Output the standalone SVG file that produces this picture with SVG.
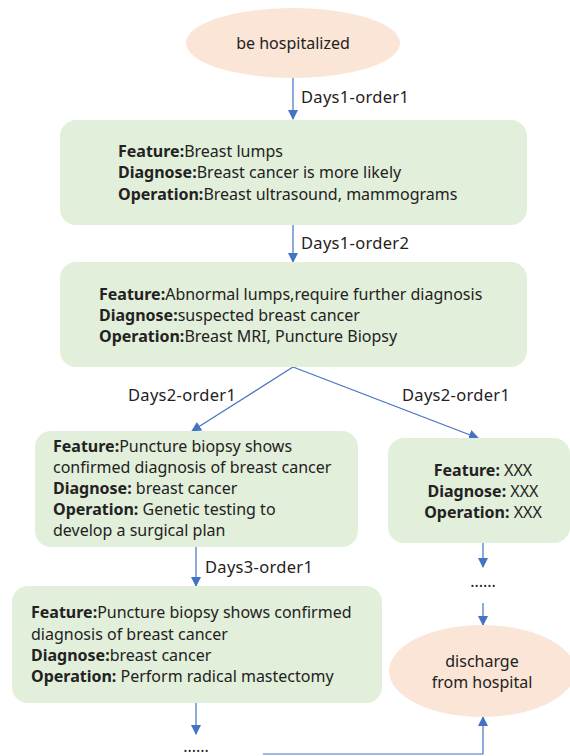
<svg xmlns="http://www.w3.org/2000/svg" width="570" height="756" viewBox="0 0 570 756">
<style>
text{font-family:"Noto Sans","Liberation Sans",sans-serif;font-size:16px;fill:#222;}
.b{font-weight:bold;}
.lbl{font-size:16.5px;letter-spacing:0.3px;}
.box{fill:#e2efda;}
.ell{fill:#fbe5d6;}
.c{stroke:#4472c4;stroke-width:1.2;fill:none;}
</style>
<defs>
<marker id="ah" markerWidth="10" markerHeight="10" refX="9" refY="5" orient="auto" markerUnits="userSpaceOnUse">
<path d="M0,0 L10,5 L0,10 z" fill="#4472c4"/>
</marker>
</defs>
<rect width="570" height="756" fill="#fff"/>
<g id="connectors">
<line class="c" x1="293" y1="78" x2="293" y2="119" marker-end="url(#ah)"/>
<line class="c" x1="293" y1="225" x2="293" y2="262" marker-end="url(#ah)"/>
<line class="c" x1="293" y1="367" x2="192" y2="431" marker-end="url(#ah)"/>
<line class="c" x1="293" y1="367" x2="478" y2="438" marker-end="url(#ah)"/>
<line class="c" x1="196" y1="547" x2="196" y2="586" marker-end="url(#ah)"/>
<line class="c" x1="483" y1="543" x2="483" y2="567" marker-end="url(#ah)"/>
<line class="c" x1="483" y1="603" x2="483" y2="625" marker-end="url(#ah)"/>
<line class="c" x1="196" y1="703" x2="196" y2="734" marker-end="url(#ah)"/>
<polyline class="c" points="263,754 483,754 483,717" marker-end="url(#ah)"/>
<text class="lbl" x="301" y="103">Days1-order1</text>
<text class="lbl" x="301" y="249">Days1-order2</text>
<text class="lbl" x="128" y="401">Days2-order1</text>
<text class="lbl" x="402" y="401">Days2-order1</text>
<text class="lbl" x="205" y="573">Days3-order1</text>
<text x="483" y="587" text-anchor="middle" font-size="12">......</text>
<text x="196" y="752" text-anchor="middle" font-size="12">......</text>
</g>
<g id="start">
<ellipse class="ell" cx="293" cy="43" rx="107" ry="35"/>
<text x="293" y="49" text-anchor="middle">be hospitalized</text>
</g>
<g id="step1">
<rect class="box" x="60" y="120" width="467" height="105" rx="16"/>
<text x="118" y="157"><tspan class="b">Feature:</tspan>Breast lumps</text>
<text x="118" y="178"><tspan class="b">Diagnose:</tspan>Breast cancer is more likely</text>
<text x="118" y="200"><tspan class="b">Operation:</tspan>Breast ultrasound, mammograms</text>
</g>
<g id="step2">
<rect class="box" x="60" y="262" width="467" height="105" rx="16"/>
<text x="99" y="300"><tspan class="b">Feature:</tspan>Abnormal lumps,require further diagnosis</text>
<text x="99" y="321"><tspan class="b">Diagnose:</tspan>suspected breast cancer</text>
<text x="99" y="342"><tspan class="b">Operation:</tspan>Breast MRI, Puncture Biopsy</text>
</g>
<g id="step3a">
<rect class="box" x="35" y="431" width="323" height="116" rx="16"/>
<text x="53" y="452"><tspan class="b">Feature:</tspan>Puncture biopsy shows</text>
<text x="53" y="473">confirmed diagnosis of breast cancer</text>
<text x="53" y="494"><tspan class="b">Diagnose:</tspan> breast cancer</text>
<text x="53" y="515"><tspan class="b">Operation:</tspan> Genetic testing to</text>
<text x="53" y="536">develop a surgical plan</text>
</g>
<g id="step3b">
<rect class="box" x="388" y="438" width="182" height="105" rx="16"/>
<text x="483" y="476" text-anchor="middle"><tspan class="b">Feature:</tspan> XXX</text>
<text x="483" y="497" text-anchor="middle"><tspan class="b">Diagnose:</tspan> XXX</text>
<text x="483" y="518" text-anchor="middle"><tspan class="b">Operation:</tspan> XXX</text>
</g>
<g id="step4">
<rect class="box" x="12" y="586" width="370" height="117" rx="16"/>
<text x="31" y="618"><tspan class="b">Feature:</tspan>Puncture biopsy shows confirmed</text>
<text x="31" y="640">diagnosis of breast cancer</text>
<text x="31" y="661"><tspan class="b">Diagnose:</tspan>breast cancer</text>
<text x="31" y="682"><tspan class="b">Operation:</tspan> Perform radical mastectomy</text>
</g>
<g id="end">
<ellipse class="ell" cx="482" cy="671" rx="93" ry="46"/>
<text x="482" y="667" text-anchor="middle">discharge</text>
<text x="482" y="688" text-anchor="middle">from hospital</text>
</g>
</svg>
